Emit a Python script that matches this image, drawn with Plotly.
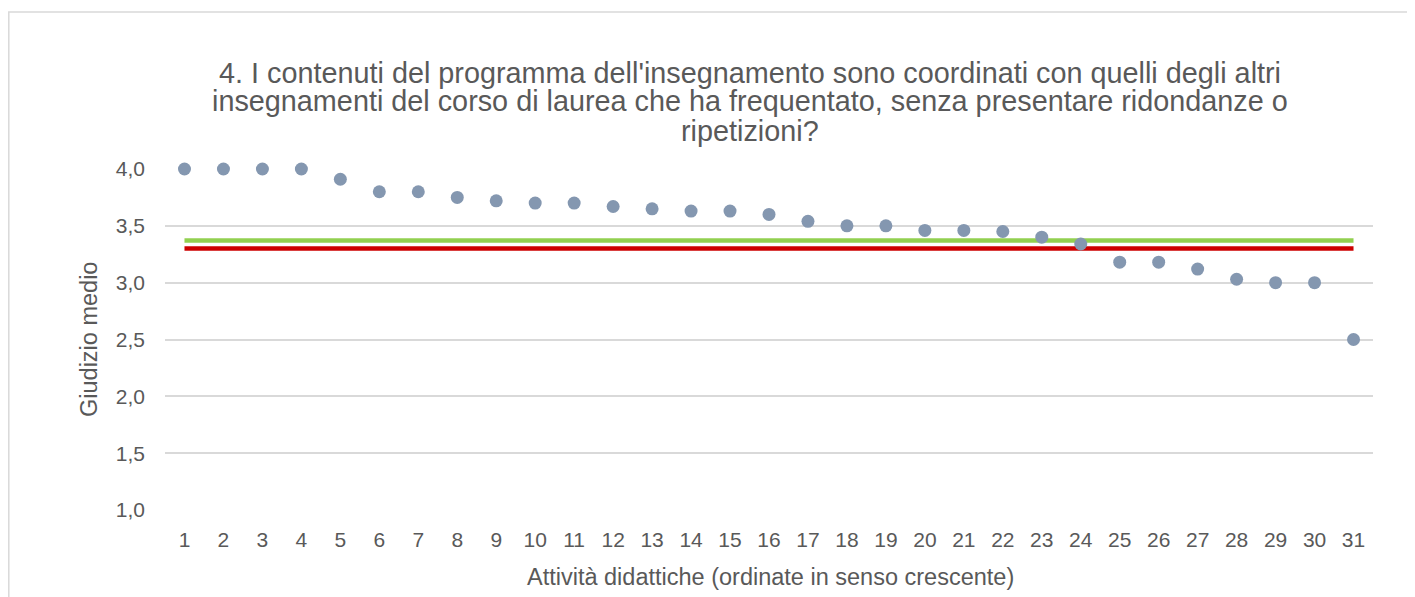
import plotly.graph_objects as go

# Values
activities = list(range(1, 32))
avg_scores = [4.00, 4.00, 4.00, 4.00, 3.91, 3.80, 3.80, 3.75, 3.72, 3.70,
              3.70, 3.67, 3.65, 3.63, 3.63, 3.60, 3.54, 3.50, 3.50, 3.46,
              3.46, 3.45, 3.40, 3.34, 3.18, 3.18, 3.12, 3.03, 3.00, 3.00,
              2.50]
green_ref = 3.37
red_ref = 3.30
y_ticks = [1.0, 1.5, 2.0, 2.5, 3.0, 3.5, 4.0]
y_tick_text = ['1,0', '1,5', '2,0', '2,5', '3,0', '3,5', '4,0']

title_lines = ["4. I contenuti del programma dell'insegnamento sono coordinati con quelli degli altri",
               "insegnamenti del corso di laurea che ha frequentato, senza presentare ridondanze o",
               "ripetizioni?"]

# page body has an 8px margin, so work in page pixels and shift
OFF = 8
W, H = 1415 - OFF, 597 - OFF
L, R, T, B = 165 - OFF, 1373 - OFF, 169 - OFF, 510 - OFF
pw, ph = R - L, B - T

def px_x(v):
    return (v - OFF - L) / pw

def px_y(v):
    return (B - (v - OFF)) / ph

text_col = '#595959'
font = 'Liberation Sans, Arial, sans-serif'

fig = go.Figure()

# reference lines (drawn under the points)
fig.add_scatter(x=[activities[0], activities[-1]], y=[green_ref, green_ref], mode='lines',
                line=dict(color='#92D050', width=4.5), hoverinfo='skip', showlegend=False)
fig.add_scatter(x=[activities[0], activities[-1]], y=[red_ref, red_ref], mode='lines',
                line=dict(color='#CC0000', width=4.5), hoverinfo='skip', showlegend=False)
fig.add_scatter(x=activities, y=avg_scores, mode='markers', cliponaxis=False,
                marker=dict(color='#8497B0', size=13), showlegend=False)

fig.update_xaxes(range=[0.5, 31.5], tickvals=activities, ticktext=[str(a) for a in activities],
                 showgrid=False, zeroline=False, showline=False, ticks='',
                 tickfont=dict(size=21, color=text_col, family=font), ticklabelstandoff=15)
fig.update_yaxes(range=[1.0, 4.0], tickvals=y_ticks, ticktext=y_tick_text,
                 showgrid=True, gridcolor='#D9D9D9', gridwidth=1.5, zeroline=False,
                 showline=False, ticks='',
                 tickfont=dict(size=21, color=text_col, family=font), ticklabelstandoff=19)

# outer chart frame
fig.add_shape(type='rect', xref='paper', yref='paper',
              x0=px_x(8.8), x1=px_x(1440), y0=px_y(640), y1=px_y(12),
              line=dict(color='#D9D9D9', width=1.5), layer='below')

# title, one annotation per line to get Excel's tight line spacing
for i, line in enumerate(title_lines):
    fig.add_annotation(text=line, xref='paper', yref='paper', x=px_x(750), y=px_y(72.5 + 29 * i),
                       xanchor='center', yanchor='middle', showarrow=False,
                       font=dict(size=28.8, color=text_col, family=font))

fig.add_annotation(text='Giudizio medio', xref='paper', yref='paper', x=px_x(89), y=px_y(340),
                   xanchor='center', yanchor='middle', showarrow=False, textangle=-90,
                   font=dict(size=23.5, color=text_col, family=font))
fig.add_annotation(text='Attività didattiche (ordinate in senso crescente)', xref='paper', yref='paper',
                   x=px_x(770), y=px_y(577), xanchor='center', yanchor='middle', showarrow=False,
                   font=dict(size=23.5, color=text_col, family=font))

fig.update_layout(width=W, height=H, margin=dict(l=L, r=W - R, t=T, b=H - B),
                  paper_bgcolor='white', plot_bgcolor='white', font=dict(family=font, color=text_col))

fig.write_html("out.html")
